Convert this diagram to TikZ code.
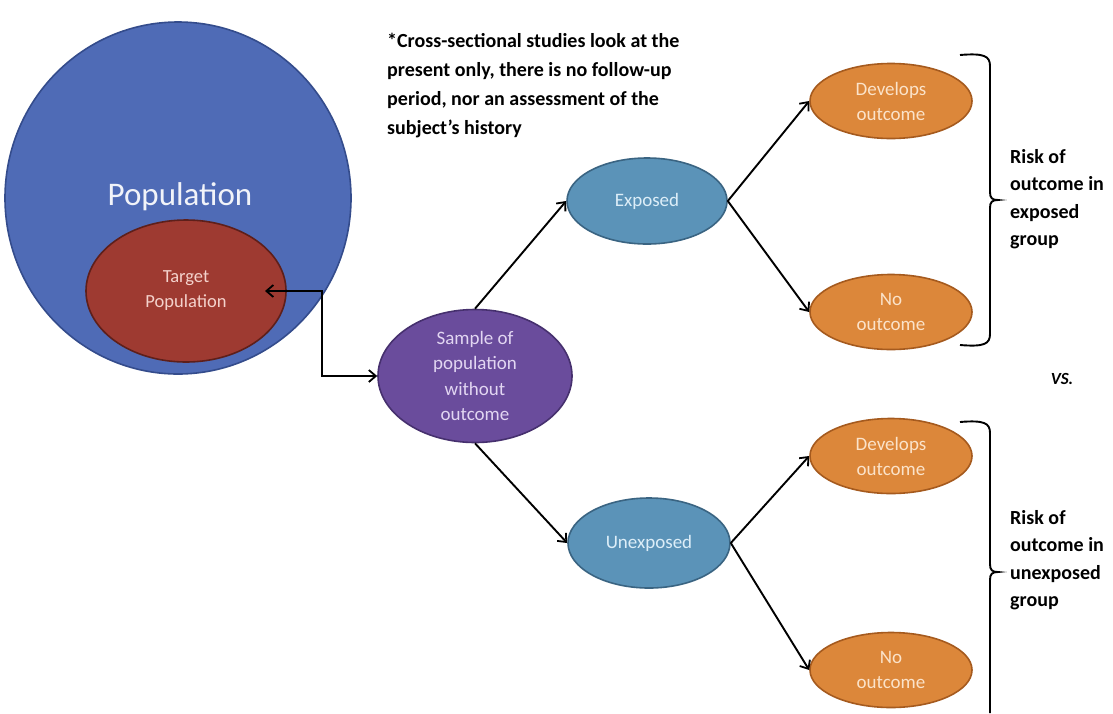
\documentclass[tikz,border=0pt]{standalone}
\usepackage{fontspec}
\setmainfont{Carlito}
\usetikzlibrary{shapes.geometric,arrows.meta}
\definecolor{popblue}{HTML}{4F6BB6}
\definecolor{popblueD}{HTML}{344C8C}
\definecolor{tgtred}{HTML}{9E3A31}
\definecolor{tgtredD}{HTML}{5E1F1A}
\definecolor{tgttxt}{HTML}{F4D2CC}
\definecolor{smppur}{HTML}{6A4C9C}
\definecolor{smppurD}{HTML}{46306E}
\definecolor{smptxt}{HTML}{E2D6F2}
\definecolor{expblue}{HTML}{5B93B8}
\definecolor{expblueD}{HTML}{3A6482}
\definecolor{exptxt}{HTML}{DDEEF8}
\definecolor{outor}{HTML}{DC873A}
\definecolor{outorD}{HTML}{A55A1E}
\definecolor{outtxt}{HTML}{FBE3CA}
\tikzset{
  oval/.style={ellipse, draw, line width=1.6pt, inner sep=0pt, align=center},
  popnode/.style={oval, fill=popblue, draw=popblueD, minimum width=346pt, minimum height=352pt},
  tgtnode/.style={oval, fill=tgtred, draw=tgtredD, minimum width=200pt, minimum height=142pt, text=tgttxt, font=\fontsize{18.5}{25}\selectfont},
  smpnode/.style={oval, fill=smppur, draw=smppurD, minimum width=194pt, minimum height=133pt, text=smptxt, font=\fontsize{19}{25.5}\selectfont},
  expnode/.style={oval, fill=expblue, draw=expblueD, minimum width=160pt, minimum height=86pt, text=exptxt, font=\fontsize{19}{22}\selectfont},
  outnode/.style={oval, fill=outor, draw=outorD, minimum width=162pt, minimum height=75pt, text=outtxt, font=\fontsize{19}{25}\selectfont},
  risktext/.style={align=left, anchor=north west, inner sep=0pt, font=\bfseries\fontsize{20}{27.5}\selectfont},
  barb/.tip={Straight Barb[length=7pt,width=12pt,line width=1.8pt]},
  conn/.style={line width=1.9pt, -barb},
  bracket/.style={line width=1.9pt}
}
\begin{document}
\begin{tikzpicture}[x=1pt,y=-1pt]
\useasboundingbox (0,0) rectangle (1113,713);
\fill[white] (0,0) rectangle (1113,713);

\node[popnode] (pop) at (178,198) {};
\node[text=white!92!popblue, font=\fontsize{33}{38}\selectfont, inner sep=0pt] (poplbl) at (180,197) {Population};
\node[tgtnode] (tgt) at (186,291) {Target\\Population};

\node[smpnode] (smp) at (475,376) {Sample of\\population\\without\\outcome};
\node[expnode] (exp) at (647,201) {Exposed};
\node[expnode, minimum width=162pt, minimum height=90pt] (unexp) at (649,543) {Unexposed};

\node[outnode] (dev1) at (891,101) {Develops\\outcome};
\node[outnode] (no1) at (891,312) {No\\outcome};
\node[outnode] (dev2) at (891,456) {Develops\\outcome};
\node[outnode] (no2) at (891,670) {No\\outcome};

\node[align=left, anchor=north west, inner sep=0pt, font=\bfseries\fontsize{20}{29}\selectfont] (note) at (387,33)
  {*Cross-sectional studies look at the\\present only, there is no follow-up\\period, nor an assessment of the\\subject’s history};

% connectors
\coordinate (tgttip) at (265,291);
\coordinate (corner) at (322,291);
\draw[line width=1.9pt, barb-barb] (tgttip) -- (corner) |- (smp.west);
\draw[conn] (smp.north) -- (exp.west);
\draw[conn] (smp.south) -- (unexp.west);
\draw[conn] (exp.east) -- (dev1.west);
\draw[conn] (exp.east) -- (no1.west);
\draw[conn] (unexp.east) -- (dev2.west);
\draw[conn] (unexp.east) -- (no2.west);

% brackets
\draw[bracket] (960,55) .. controls (984,53) and (990,56) .. (990,66) -- (990,192) .. controls (990,198) and (992,200) .. (998,200)
  .. controls (992,200) and (990,202) .. (990,208) -- (990,334) .. controls (990,344) and (984,347) .. (960,345);
\draw[bracket] (960,422) .. controls (984,420) and (990,423) .. (990,433) -- (990,564) .. controls (990,570) and (992,572) .. (998,572)
  .. controls (992,572) and (990,574) .. (990,580) -- (990,713);

\node[risktext] (risk1) at (1010,149) {Risk of\\outcome in\\exposed\\group};
\node[risktext] (risk2) at (1010,510) {Risk of\\outcome in\\unexposed\\group};
\node[font=\bfseries\itshape\fontsize{17}{20}\selectfont, inner sep=0pt] (vs) at (1062,379) {VS.};
\end{tikzpicture}
\end{document}
